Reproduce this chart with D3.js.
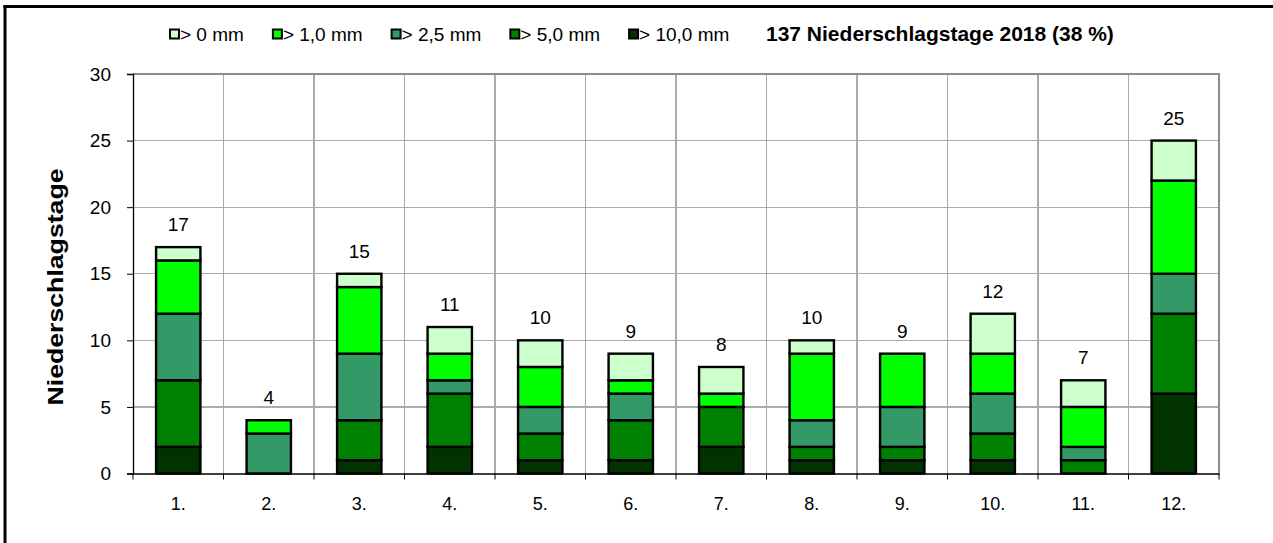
<html>
  <head>
    <script src="https://d3js.org/d3.v7.min.js"></script>
    <style>
      body { margin: 0; background: white; }
      svg { display: block; font-family: "Liberation Sans", Arial, sans-serif; }
      .grid line { stroke: #ababab; stroke-width: 1.3; shape-rendering: crispEdges; }
    </style>
  </head>
  <body>
    <script type="text/javascript">
      // months and day counts per rain class (stack order: bottom -> top)
      var months = ["1.", "2.", "3.", "4.", "5.", "6.", "7.", "8.", "9.", "10.", "11.", "12."];
      var over10 = [2, 0, 1, 2, 1, 1, 2, 1, 1, 1, 0, 6];
      var over5  = [5, 0, 3, 4, 2, 3, 3, 1, 1, 2, 1, 6];
      var over25 = [5, 3, 5, 1, 2, 2, 0, 2, 3, 3, 1, 3];
      var over1  = [4, 1, 5, 2, 3, 1, 1, 5, 4, 3, 3, 7];
      var over0  = [1, 0, 1, 2, 2, 2, 2, 1, 0, 3, 2, 3];
      var yTicks = [0, 5, 10, 15, 20, 25, 30];
      var legendLabels = ["> 0 mm", "> 1,0 mm", "> 2,5 mm", "> 5,0 mm", "> 10,0 mm"];
      var titleText = "137 Niederschlagstage 2018 (38 %)";
      var yTitle = "Niederschlagstage";

      var width = 1273, height = 543;
      var plotLeft = 133, plotRight = 1219, plotTop = 74, plotBottom = 473.5;

      var keys = ["over10", "over5", "over25", "over1", "over0"];
      var colors = {over10: "#003300", over5: "#008000", over25: "#339966", over1: "#00ff00", over0: "#ccffcc"};

      var data = months.map(function (m, i) {
        return {month: m, over10: over10[i], over5: over5[i], over25: over25[i], over1: over1[i], over0: over0[i]};
      });

      var svg = d3.select("body").append("svg")
        .attr("width", width)
        .attr("height", height);

      var x = d3.scaleBand()
        .domain(months)
        .range([plotLeft, plotRight])
        .paddingInner(0.51)
        .paddingOuter(0.255);

      var y = d3.scaleLinear()
        .domain([0, 30])
        .range([plotBottom, plotTop]);

      // outer frame (cropped chart border)
      svg.append("line").attr("x1", 3.5).attr("x2", width).attr("y1", 6.5).attr("y2", 6.5)
        .attr("stroke", "black").attr("stroke-width", 3);
      svg.append("line").attr("x1", 5).attr("x2", 5).attr("y1", 5).attr("y2", height)
        .attr("stroke", "black").attr("stroke-width", 3);

      // gridlines
      var step = x.step();
      var gap = step * x.paddingInner() / 2;
      var grid = svg.append("g").attr("class", "grid");
      grid.selectAll(".h").data(yTicks.slice(1, -1)).enter().append("line")
        .attr("x1", plotLeft).attr("x2", plotRight)
        .attr("y1", d => y(d)).attr("y2", d => y(d));
      grid.selectAll(".v").data(months.slice(1)).enter().append("line")
        .attr("x1", d => x(d) - gap)
        .attr("x2", d => x(d) - gap)
        .attr("y1", plotTop).attr("y2", plotBottom);

      // plot area top and right border
      svg.append("path")
        .attr("d", "M" + plotLeft + "," + plotTop + "H" + plotRight + "V" + plotBottom)
        .attr("fill", "none").attr("stroke", "#8c8c8c").attr("stroke-width", 2);

      // bars
      var series = d3.stack().keys(keys)(data);
      series.forEach(function (s) {
        svg.append("g").selectAll("rect")
          .data(s.filter(d => d[1] > d[0]))
          .enter().append("rect")
          .attr("x", d => x(d.data.month))
          .attr("width", x.bandwidth())
          .attr("y", d => y(d[1]))
          .attr("height", d => y(d[0]) - y(d[1]))
          .attr("fill", colors[s.key])
          .attr("stroke", "black")
          .attr("stroke-width", 2.4);
      });

      // totals above bars
      svg.append("g").selectAll("text")
        .data(data).enter().append("text")
        .attr("x", d => x(d.month) + x.bandwidth() / 2)
        .attr("y", d => y(d3.sum(keys, k => d[k])) - 16)
        .attr("text-anchor", "middle")
        .attr("font-size", "19px")
        .text(d => d3.sum(keys, k => d[k]));

      // y axis
      var yAxis = d3.axisLeft(y).tickValues(yTicks).tickSize(6).tickPadding(16);
      var yg = svg.append("g").attr("transform", "translate(" + plotLeft + ",0)").call(yAxis);
      yg.select(".domain").attr("stroke-width", 1.3);
      yg.selectAll(".tick text").attr("font-size", "19px").attr("font-family", "Liberation Sans, Arial");

      // x axis: ticks on category boundaries
      var xAxis = d3.axisBottom(x).tickSize(0).tickPadding(24);
      var xg = svg.append("g").attr("transform", "translate(0," + plotBottom + ")").call(xAxis);
      xg.select(".domain").attr("stroke-width", 1.3);
      xg.selectAll(".tick text").attr("font-size", "18px").attr("font-family", "Liberation Sans, Arial");
      var bounds = months.map(m => x(m) - gap).concat([plotRight]);
      xg.selectAll(".bound").data(bounds).enter().append("line")
        .attr("x1", d => d).attr("x2", d => d)
        .attr("y1", 0).attr("y2", 6)
        .attr("stroke", "black").attr("stroke-width", 1);

      // y axis title
      svg.append("text")
        .attr("transform", "translate(63," + 287 + ") rotate(-90)")
        .attr("text-anchor", "middle")
        .attr("font-size", "22px")
        .attr("font-weight", "bold")
        .attr("textLength", 237)
        .attr("lengthAdjust", "spacingAndGlyphs")
        .text(yTitle);

      // legend
      var legend = svg.append("g");
      var lx = 170, ly = 34;
      legendLabels.forEach(function (label, i) {
        legend.append("rect")
          .attr("x", lx).attr("y", ly - 4.5)
          .attr("width", 9).attr("height", 9)
          .attr("fill", colors[keys[keys.length - 1 - i]])
          .attr("stroke", "black").attr("stroke-width", 2);
        var t = legend.append("text")
          .attr("x", lx + 10)
          .attr("y", ly + 7)
          .attr("font-size", "19px")
          .text(label);
        lx += 10 + t.node().getComputedTextLength() + 29;
      });
      legend.append("text")
        .attr("x", 766)
        .attr("y", ly + 7)
        .attr("font-size", "21px")
        .attr("font-weight", "bold")
        .text(titleText);
    </script>
  </body>
</html>
